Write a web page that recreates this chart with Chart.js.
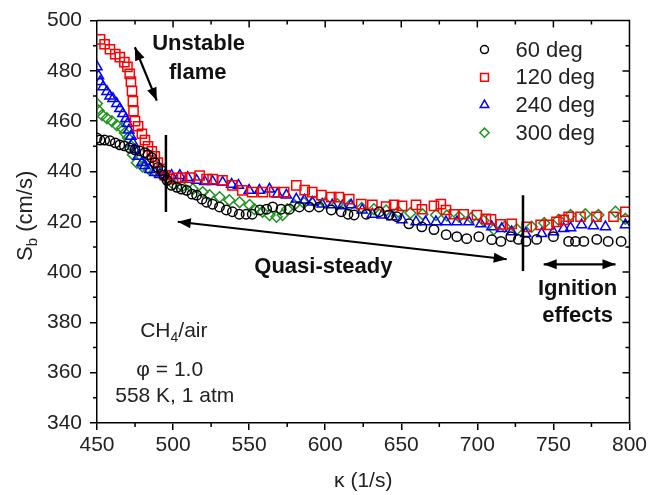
<!DOCTYPE html>
<html>
<head>
<meta charset="utf-8">
<script src="https://cdn.jsdelivr.net/npm/chart.js@4.4.0/dist/chart.umd.min.js"></script>
<style>
  html, body { margin: 0; padding: 0; background: #fff; }
  #wrap { width: 650px; height: 495px; }
</style>
</head>
<body>
<div id="wrap"><canvas id="sbChart" width="650" height="495"></canvas></div>
<script>
// axis ticks
const xTicks = [450, 500, 550, 600, 650, 700, 750, 800];
const yTicks = [340, 360, 380, 400, 420, 440, 460, 480, 500];

// 60 deg (black circles)
const k60 = [450, 452, 455, 458.5, 462, 465, 468, 471.5, 475, 478, 481.5, 483.5, 486, 488, 490, 492.5, 494, 496, 499, 502.5,
  505.5, 509, 512.5, 515.5, 519, 522, 526, 530.5, 535, 539, 543.5, 548, 552, 557, 561.5, 565.5, 571, 576.5, 583, 589.5,
  596, 604, 610.5, 615, 619, 627, 635.5, 642, 647, 655, 663.5, 671.5, 679.5, 686.5, 693, 701, 709.5, 715.5, 722, 727,
  732, 739, 750, 760, 764.5, 770, 778.5, 786, 794.5];
const sb60 = [453.3, 452.5, 452.5, 452.2, 451.4, 450.6, 450.2, 449.4, 448.6, 448.2, 447.5, 446.7, 445.5, 443.5, 441.6, 440.4, 438.5, 436.5, 434.5, 433.7,
  433, 432.5, 431, 430.6, 429, 427.8, 427, 425.9, 424.7, 424, 423, 423, 423, 424.7, 425, 425.9, 425, 425, 425.9, 425.9,
  425.9, 424.7, 424, 423, 422.7, 423, 424, 422.7, 422, 419.2, 418, 416.9, 414.9, 414.1, 413.3, 414.1, 412.9, 412.2, 414.1, 413,
  412.2, 413, 414.1, 412.2, 412.2, 412.2, 413, 412.2, 412.2];

// 120 deg (red squares)
const k120 = [452, 455, 458.5, 462, 465, 468, 470, 471.5, 472.3, 473, 473.6, 474, 475, 477, 479.5, 481.5, 483.5, 486, 488, 490,
  492.5, 494.5, 497.5, 502, 506, 511, 517.5, 522, 526, 532.5, 539, 545.5, 552, 559, 566.5, 573, 581, 586.5, 591.5, 597.5,
  604, 609, 615.8, 623.7, 631, 640, 645.3, 650.5, 659.7, 663.6, 671.5, 676, 679.4, 684.6, 691, 699.7, 705.6, 709, 715.4, 722.6,
  732.4, 741.6, 746.9, 752, 756.7, 760, 767.8, 778.3, 789.5, 797.3];
const sb120 = [492.5, 490.6, 488.6, 486.7, 485.5, 483.5, 481.6, 478.8, 475.7, 472, 468, 464, 460, 458, 455, 452.5, 450, 448, 446, 443.5,
  441, 438.5, 437, 437.5, 437.6, 437.6, 438.4, 437, 437, 436.5, 434.5, 432.5, 431.8, 431.8, 431.8, 431.8, 434.5, 432.6, 431.8, 430.6,
  429.8, 429.8, 429, 427, 426.7, 426, 426.7, 426.3, 426.7, 425, 426.3, 427, 424.7, 423, 423, 422.7, 421.2, 421, 419, 419.2,
  418, 418.8, 418.8, 420, 420.8, 422, 422, 422, 422, 424];

// 240 deg (blue triangles)
const k240 = [450, 451, 452, 454, 456.5, 458.5, 460.5, 463, 465, 467, 469, 470, 471, 472.3, 473.6, 475, 477, 479.5, 481.5, 484.7,
  488, 491.3, 494.6, 499, 504.4, 509.6, 515.5, 520.8, 526, 532.6, 538.5, 543, 550, 556.8, 563.4, 568.6, 574.5, 581, 586.3, 591.5,
  598, 604.6, 611.2, 617, 624.3, 631, 637.4, 644, 650.5, 659.7, 666, 672.8, 679.4, 686.6, 694.4, 702.3, 709.5, 716, 722.6, 731.8,
  742.3, 750, 756.7, 761.3, 768.5, 776.3, 784.2, 797.3];
const sb240 = [481.6, 478, 475.7, 473.7, 471.8, 470, 469, 467, 465, 463, 461, 459, 456.5, 454, 451.4, 448.6, 446, 443.5, 442.3, 440.8,
  439.6, 438.8, 438.4, 438.4, 438.4, 437.6, 436.5, 436, 436, 435.7, 434.9, 434.5, 432.5, 432.5, 433, 431, 430.6, 429, 428.6, 427.8,
  427, 426.7, 426.3, 426.7, 424.7, 423, 422.7, 422, 420.8, 420, 420, 420, 420, 420, 420, 419.2, 418, 417.3, 416, 415.3,
  415.3, 416, 417.3, 417.6, 418.8, 418.4, 418, 418.8];

// 300 deg (green diamonds)
const k300 = [450, 451, 453.3, 456.5, 459.8, 463, 466.4, 468.3, 470.3, 472.3, 473.6, 476.2, 480, 484, 488, 492, 496, 500, 506, 513,
  519.5, 524, 530.6, 537, 543.7, 550.3, 553.5, 558.8, 563.4, 568, 572, 575, 579.7, 586, 593, 600, 608, 616, 624, 632,
  640, 648, 656, 664, 672.8, 680, 688, 696, 704, 710.8, 718, 726, 735.7, 744, 753.4, 761.3, 771, 779.6, 790.8, 797.3];
const sb300 = [467, 464.3, 462.4, 461.2, 460, 458.4, 457.3, 455.3, 453.3, 450.2, 446.7, 443.5, 442, 441, 440, 439, 437, 435, 434, 433,
  431.8, 430.6, 429.8, 428.6, 427.8, 426.7, 425, 424, 422.7, 422, 422.7, 425, 426.7, 427.5, 428, 427.5, 427, 426.5, 425.5, 425,
  424.5, 424, 423.5, 423, 422.7, 422.5, 422, 421.5, 420.5, 417, 418, 417, 418, 419.5, 420.8, 422.7, 423, 422.7, 424, 421.2];

const seriesLabels = ["60 deg", "120 deg", "240 deg", "300 deg"];

const FONT = "'Liberation Sans', Arial, Helvetica, sans-serif";

function pts(xs, ys) {
  return xs.map((v, i) => ({ x: v, y: ys[i] }));
}
function mids(arr) {
  const out = [];
  for (let i = 0; i < arr.length - 1; i++) out.push((arr[i] + arr[i + 1]) / 2);
  return out;
}

const styles = [
  { color: "#000000", pointStyle: "circle", radius: 4.7 },
  { color: "#ff0000", pointStyle: "rect", radius: 6.5 },
  { color: "#0000ff", pointStyle: "triangle", radius: 5.8 },
  { color: "#1f931f", pointStyle: "rectRot", radius: 5.4 },
];
const seriesData = [[k60, sb60], [k120, sb120], [k240, sb240], [k300, sb300]];

const datasets = seriesData.map((s, i) => ({
  label: seriesLabels[i],
  data: pts(s[0], s[1]),
  showLine: false,
  pointStyle: styles[i].pointStyle,
  pointRadius: styles[i].radius,
  pointBorderColor: styles[i].color,
  borderColor: styles[i].color,
  pointBackgroundColor: "rgba(0,0,0,0)",
  backgroundColor: "rgba(0,0,0,0)",
  pointBorderWidth: 1.5,
}));

// frame, mirrored and minor ticks, y title
const framePlugin = {
  id: "frame",
  afterDraw(chart) {
    const { ctx, chartArea: a, scales: { x, y } } = chart;
    ctx.save();
    ctx.strokeStyle = "#000";
    ctx.lineWidth = 1.5;
    ctx.beginPath();
    ctx.moveTo(a.left, a.top);
    ctx.lineTo(a.right, a.top);
    ctx.lineTo(a.right, a.bottom);
    ctx.stroke();

    ctx.beginPath();
    xTicks.slice(1, -1).forEach(v => {
      const px = x.getPixelForValue(v);
      ctx.moveTo(px, a.top); ctx.lineTo(px, a.top + 7);
    });
    mids(xTicks).forEach(v => {
      const px = x.getPixelForValue(v);
      ctx.moveTo(px, a.top); ctx.lineTo(px, a.top + 4);
      ctx.moveTo(px, a.bottom); ctx.lineTo(px, a.bottom + 4);
    });
    yTicks.slice(1, -1).forEach(v => {
      const py = y.getPixelForValue(v);
      ctx.moveTo(a.right, py); ctx.lineTo(a.right - 7, py);
    });
    mids(yTicks).forEach(v => {
      const py = y.getPixelForValue(v);
      ctx.moveTo(a.right, py); ctx.lineTo(a.right - 4, py);
      ctx.moveTo(a.left, py); ctx.lineTo(a.left - 4, py);
    });
    ctx.stroke();

    ctx.fillStyle = "#222";
    ctx.textBaseline = "alphabetic";
    ctx.textAlign = "left";
    const big = "22px " + FONT, small = "15px " + FONT;
    ctx.font = big; const wS = ctx.measureText("S").width;
    const wRest = ctx.measureText(" (cm/s)").width;
    ctx.font = small; const wb = ctx.measureText("b").width;
    const total = wS + wb + wRest;
    ctx.translate(32, (a.top + a.bottom) / 2 - 6);
    ctx.rotate(-Math.PI / 2);
    let cx = -total / 2;
    ctx.font = big; ctx.fillText("S", cx, 0); cx += wS;
    ctx.font = small; ctx.fillText("b", cx, 5); cx += wb;
    ctx.font = big; ctx.fillText(" (cm/s)", cx, 0);
    ctx.restore();
  },
};

function arrowHead(ctx, fx, fy, tx, ty, len, half) {
  const ang = Math.atan2(ty - fy, tx - fx);
  ctx.beginPath();
  ctx.moveTo(tx, ty);
  ctx.lineTo(tx - len * Math.cos(ang) + half * Math.sin(ang), ty - len * Math.sin(ang) - half * Math.cos(ang));
  ctx.lineTo(tx - len * Math.cos(ang) - half * Math.sin(ang), ty - len * Math.sin(ang) + half * Math.cos(ang));
  ctx.closePath();
  ctx.fill();
}
function doubleArrow(ctx, x1, y1, x2, y2, lw) {
  ctx.lineWidth = lw;
  ctx.beginPath();
  ctx.moveTo(x1, y1);
  ctx.lineTo(x2, y2);
  ctx.stroke();
  arrowHead(ctx, x2, y2, x1, y1, 13, 5);
  arrowHead(ctx, x1, y1, x2, y2, 13, 5);
}

// annotations drawn in data coordinates
const notesPlugin = {
  id: "notes",
  afterDatasetsDraw(chart) {
    const { ctx, chartArea: a, scales: { x, y } } = chart;
    const X = v => x.getPixelForValue(v), Y = v => y.getPixelForValue(v);
    ctx.save();
    ctx.strokeStyle = "#000";
    ctx.fillStyle = "#000";

    // region boundaries
    ctx.lineWidth = 2.5;
    ctx.beginPath();
    ctx.moveTo(X(495.3), Y(454.5)); ctx.lineTo(X(495.3), Y(423.9));
    ctx.moveTo(X(730), Y(430.6)); ctx.lineTo(X(730), Y(400.4));
    ctx.stroke();

    doubleArrow(ctx, X(474.9), Y(489.4), X(489.3), Y(468.2), 2.2);
    doubleArrow(ctx, X(503.1), Y(420), X(719.3), Y(405.1), 2);
    doubleArrow(ctx, X(743.6), Y(403.1), X(790.8), Y(403.1), 2.2);

    ctx.fillStyle = "#111";
    ctx.textAlign = "center";
    ctx.textBaseline = "middle";
    ctx.font = "bold 22px " + FONT;
    ctx.fillText("Unstable", X(516.8), Y(490.6));
    ctx.fillText("flame", X(516.2), Y(479.2));
    ctx.fillText("Quasi-steady", X(598.8), Y(402));
    ctx.fillText("Ignition", X(765.9), Y(393.3));
    ctx.fillText("effects", X(765.9), Y(382.4));

    // conditions
    ctx.fillStyle = "#222";
    const big = "21px " + FONT, small = "14px " + FONT;
    ctx.font = big; const wCH = ctx.measureText("CH").width, wAir = ctx.measureText("/air").width;
    ctx.font = small; const w4 = ctx.measureText("4").width;
    let cx = X(500.5) - (wCH + w4 + wAir) / 2;
    const cy = Y(376.5);
    ctx.textAlign = "left";
    ctx.font = big; ctx.fillText("CH", cx, cy); cx += wCH;
    ctx.font = small; ctx.fillText("4", cx, cy + 7); cx += w4;
    ctx.font = big; ctx.fillText("/air", cx, cy);
    ctx.textAlign = "center";
    ctx.fillText("\u03C6 = 1.0", X(497.8), Y(360.8));
    ctx.fillText("558 K, 1 atm", X(501.1), Y(350.6));

    // legend
    const helpers = Chart.helpers;
    datasets.forEach((ds, i) => {
      const ly = a.top + 29 + i * 27.7;
      ctx.strokeStyle = styles[i].color;
      ctx.fillStyle = "rgba(0,0,0,0)";
      ctx.lineWidth = 1.5;
      helpers.drawPoint(ctx, { pointStyle: styles[i].pointStyle, radius: styles[i].radius * 0.85, rotation: 0, borderWidth: 1.5 }, a.right - 145, ly);
      ctx.fillStyle = "#222";
      ctx.font = "22px " + FONT;
      ctx.textAlign = "left";
      ctx.fillText(seriesLabels[i], a.right - 114, ly + 1);
    });
    ctx.restore();
  },
};

new Chart(document.getElementById("sbChart"), {
  type: "scatter",
  data: { datasets },
  options: {
    responsive: false,
    animation: false,
    devicePixelRatio: 1,
    layout: { padding: { left: 0, right: 19, top: 16, bottom: 0 } },
    plugins: { legend: { display: false }, tooltip: { enabled: false } },
    scales: {
      x: {
        type: "linear",
        min: 450,
        max: 800,
        afterBuildTicks: s => { s.ticks = xTicks.map(v => ({ value: v })); },
        afterFit: s => { s.height = 72; },
        grid: { drawOnChartArea: false, drawTicks: true, tickLength: 7, color: "#000", lineWidth: 1.5 },
        border: { display: true, color: "#000", width: 1.5 },
        ticks: { color: "#222", font: { size: 21, family: FONT }, padding: 3, maxRotation: 0 },
        title: { display: true, text: "\u03BA (1/s)", color: "#222", font: { size: 21, family: FONT }, padding: { top: 0, bottom: 1 } },
      },
      y: {
        type: "linear",
        min: 340,
        max: 500,
        afterBuildTicks: s => { s.ticks = yTicks.map(v => ({ value: v })); },
        afterFit: s => { s.width = 97; },
        grid: { drawOnChartArea: false, drawTicks: true, tickLength: 7, color: "#000", lineWidth: 1.5 },
        border: { display: true, color: "#000", width: 1.5 },
        ticks: { color: "#222", font: { size: 21, family: FONT }, padding: 8 },
      },
    },
  },
  plugins: [framePlugin, notesPlugin],
});
</script>
</body>
</html>
